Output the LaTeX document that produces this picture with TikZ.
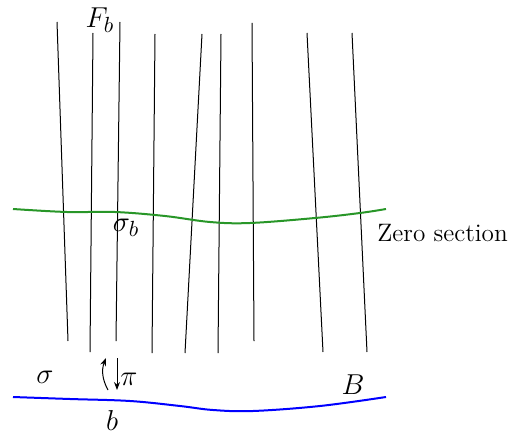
\documentclass[tikz,border=0pt]{standalone}
\usepackage{tikz}
\usetikzlibrary{arrows.meta, positioning, calc}
\definecolor{secgreen}{RGB}{40,150,40}

\begin{document}
\begin{tikzpicture}[
    x=0.5pt, y=-0.5pt,
    fibre/.style={line width=0.5pt, black},
    lbl/.style={font=\fontsize{12.6}{15}\selectfont, inner sep=1pt},
    mlbl/.style={font=\fontsize{15}{17}\selectfont, inner sep=1pt},
    arr/.style={-{Stealth[length=4pt, width=3pt]}, line width=0.5pt}
]
\path[use as bounding box] (0,0) rectangle (508,433);
% fibres over the base
\foreach \xa/\ya/\xb/\yb in {57/22/68/341, 93/33/90/352, 120/22/116/341,
    155/34/152/353, 202/34/185/353, 221/34/218/353, 252/23/254/341,
    307/33/323/352, 352/33/367/352}
  \draw[fibre] (\xa,\ya) -- (\xb,\yb);
% zero section
\draw[secgreen, line width=1pt] plot[smooth, tension=0.6] coordinates
  {(13,209) (67,212) (115,212) (165,216) (210,222) (250,223)
   (315,218) (360,213) (386,209)};
% base
\draw[blue, line width=1pt] plot[smooth, tension=0.6] coordinates
  {(13,397) (70,399) (130,401) (180,406) (213,410) (253,411)
   (320,406) (386,397)};
% labels
\node[mlbl] (Fb)   at (100,20)  {$F_b$};
\node[mlbl] (sigb) at (126,228) {$\sigma_b$};
\node[lbl, anchor=west] (zero) at (375,233) {Zero section};
\node[mlbl] (sig)  at (45,377)  {$\sigma$};
\node[mlbl] (pi)   at (129,379) {$\pi$};
\node[mlbl] (B)    at (353,385) {$B$};
\node[mlbl] (b)    at (112,420) {$b$};
% section and projection
\coordinate (su) at (106,358);
\coordinate (sd) at (108,390);
\coordinate (pu) at (117,358);
\coordinate (pd) at (117,390);
\draw[arr] (sd) to[bend left=25] (su);
\draw[arr] (pu) -- (pd);
\end{tikzpicture}
\end{document}
